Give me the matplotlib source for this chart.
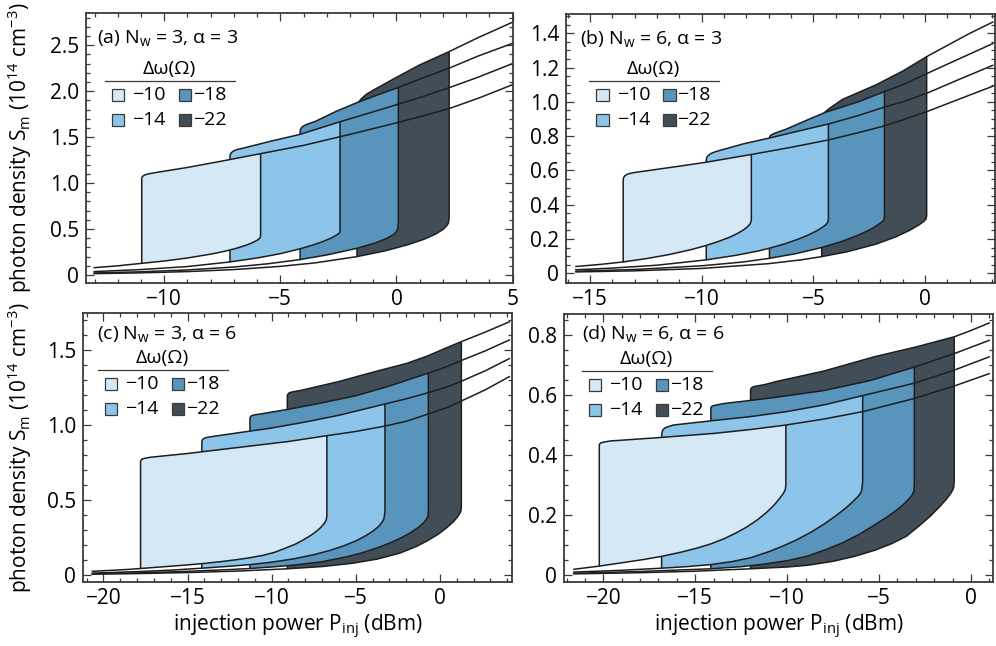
import numpy as np
import matplotlib
matplotlib.use("Agg")
import matplotlib.pyplot as plt
from matplotlib.patches import Rectangle
from matplotlib.ticker import MultipleLocator

plt.rcParams['font.family'] = ['Open Sans', 'DejaVu Sans']
plt.rcParams['mathtext.fontset'] = 'custom'
plt.rcParams['mathtext.rm'] = 'Open Sans'
plt.rcParams['mathtext.it'] = 'Open Sans:italic'
plt.rcParams['mathtext.bf'] = 'Open Sans:bold'

# ---------------- data ----------------
detunings = [-10, -14, -18, -22]
legend_labels = ['\u221210', '\u221214', '\u221218', '\u221222']
fill_colors = ['#d5e8f6', '#8cc4ea', '#5894bb', '#414e58']

panel_labels = [r'(a) N$_\mathrm{w}$ = 3, α = 3', r'(b) N$_\mathrm{w}$ = 6, α = 3',
                r'(c) N$_\mathrm{w}$ = 3, α = 6', r'(d) N$_\mathrm{w}$ = 6, α = 6']

# order of inner lists: detuning -10, -14, -18, -22
# lower branch runs from the left end to the up-jump; upper branch from the down-jump to the right end
# panel (a)
a_lower_x = [[-13.05, -12.0, -10.97, -10.0, -9.0, -8.0, -7.4, -6.9, -6.5, -6.2, -6.0, -5.92, -5.87, -5.85],
             [-13.05, -11.0, -9.0, -7.17, -6.0, -5.0, -4.15, -3.6, -3.15, -2.85, -2.65, -2.53, -2.46, -2.43],
             [-13.05, -11.0, -9.0, -7.0, -5.5, -4.15, -3.0, -1.7, -0.9, -0.45, -0.15, 0.0, 0.06, 0.08],
             [-13.05, -11.0, -9.0, -7.0, -5.0, -3.5, -1.7, -0.5, 0.5, 1.2, 1.7, 2.0, 2.17, 2.24, 2.27]]
a_lower_y = [[0.079, 0.10, 0.127, 0.152, 0.185, 0.227, 0.258, 0.29, 0.322, 0.352, 0.378, 0.393, 0.407, 0.43],
             [0.037, 0.059, 0.092, 0.142, 0.185, 0.232, 0.285, 0.326, 0.366, 0.398, 0.424, 0.443, 0.456, 0.475],
             [0.022, 0.035, 0.055, 0.087, 0.123, 0.168, 0.218, 0.29, 0.35, 0.395, 0.435, 0.47, 0.51, 0.57],
             [0.0146, 0.0235, 0.037, 0.059, 0.094, 0.132, 0.20, 0.262, 0.33, 0.39, 0.447, 0.495, 0.537, 0.565, 0.62]]
a_upper_x = [[-10.97, -10.95, -10.9, -10.8, -10.6, -10.3, -9.0, -7.5, -5.85, -4.0, -2.0, 0.0, 1.2, 2.27, 3.6, 5.0],
             [-7.17, -7.15, -7.1, -7.0, -6.85, -6.6, -5.5, -4.15, -2.43, -1.0, 0.0, 1.0, 2.3, 3.5, 5.0],
             [-4.15, -4.13, -4.08, -3.98, -3.8, -3.5, -2.6, -1.7, -0.8, 0.08, 1.0, 2.27, 3.5, 5.0],
             [-1.7, -1.68, -1.62, -1.5, -1.3, -1.0, -0.5, 0.0, 1.0, 2.27, 3.5, 5.0]]
a_upper_y = [[1.05, 1.068, 1.08, 1.092, 1.104, 1.117, 1.17, 1.24, 1.32, 1.41, 1.53, 1.655, 1.735, 1.81, 1.93, 2.07],
             [1.29, 1.315, 1.333, 1.352, 1.366, 1.38, 1.45, 1.53, 1.667, 1.775, 1.852, 1.93, 2.04, 2.15, 2.30],
             [1.56, 1.585, 1.605, 1.625, 1.645, 1.67, 1.78, 1.875, 1.96, 2.04, 2.13, 2.25, 2.38, 2.52],
             [1.82, 1.855, 1.885, 1.92, 1.965, 2.01, 2.08, 2.15, 2.285, 2.43, 2.58, 2.75]]

# panel (b)
b_lower_x = [[-15.67, -14.5, -13.52, -12.5, -11.5, -10.5, -9.8, -9.2, -8.7, -8.35, -8.1, -7.93, -7.83, -7.78],
             [-15.67, -14.0, -12.0, -9.8, -8.5, -7.5, -6.97, -6.3, -5.7, -5.2, -4.85, -4.6, -4.45, -4.37, -4.33],
             [-15.67, -13.0, -10.0, -8.2, -6.97, -5.8, -4.63, -3.7, -3.0, -2.5, -2.15, -1.95, -1.86, -1.82],
             [-15.67, -13.0, -10.0, -7.0, -5.5, -4.63, -3.5, -2.19, -1.3, -0.7, -0.3, -0.05, 0.04, 0.07]]
b_lower_y = [[0.039, 0.052, 0.066, 0.085, 0.108, 0.137, 0.162, 0.188, 0.213, 0.236, 0.256, 0.274, 0.289, 0.31],
             [0.02, 0.03, 0.047, 0.078, 0.104, 0.129, 0.146, 0.171, 0.198, 0.225, 0.248, 0.268, 0.283, 0.295, 0.315],
             [0.0118, 0.0218, 0.0435, 0.065, 0.087, 0.114, 0.15, 0.187, 0.222, 0.252, 0.279, 0.298, 0.308, 0.325],
             [0.0076, 0.014, 0.028, 0.056, 0.079, 0.097, 0.125, 0.17, 0.213, 0.25, 0.28, 0.303, 0.316, 0.335]]
b_upper_x = [[-13.52, -13.5, -13.45, -13.35, -13.2, -13.0, -11.0, -9.8, -7.78, -6.0, -4.33, -3.0, -1.82, -1.0, 0.07, 1.5, 3.06],
             [-9.8, -9.78, -9.72, -9.6, -9.4, -9.1, -8.14, -6.94, -5.5, -4.33, -3.0, -1.82, -1.0, 0.07, 1.5, 3.06],
             [-6.97, -6.95, -6.88, -6.75, -6.55, -6.2, -5.5, -4.45, -3.0, -1.82, -1.0, 0.07, 1.5, 3.06],
             [-4.63, -4.6, -4.52, -4.4, -4.2, -3.69, -2.19, -1.0, 0.07, 1.0, 2.0, 3.06]]
b_upper_y = [[0.545, 0.558, 0.568, 0.577, 0.583, 0.588, 0.625, 0.648, 0.693, 0.735, 0.778, 0.82, 0.86, 0.895, 0.943, 1.015, 1.093],
             [0.66, 0.674, 0.686, 0.698, 0.709, 0.72, 0.755, 0.79, 0.835, 0.871, 0.92, 0.97, 1.0, 1.05, 1.13, 1.215],
             [0.79, 0.80, 0.808, 0.816, 0.826, 0.842, 0.882, 0.94, 1.0, 1.06, 1.10, 1.165, 1.25, 1.342],
             [0.90, 0.918, 0.935, 0.95, 0.97, 1.015, 1.10, 1.18, 1.264, 1.33, 1.40, 1.468]]

# panel (c)
c_lower_x = [[-20.7, -19.5, -18.5, -17.79, -16.5, -15.0, -14.0, -13.0, -12.0, -11.29, -10.5, -9.8, -9.2, -8.6, -8.1, -7.7, -7.35, -7.1, -6.9, -6.8, -6.75, -6.72],
             [-20.7, -18.0, -16.0, -14.15, -12.5, -11.29, -10.0, -8.67, -7.5, -6.5, -5.7, -5.0, -4.4, -3.95, -3.65, -3.45, -3.33, -3.27],
             [-20.7, -18.0, -15.0, -12.5, -11.29, -10.0, -8.67, -7.0, -5.5, -4.71, -3.8, -3.0, -2.3, -1.7, -1.25, -0.95, -0.78, -0.71, -0.69],
             [-20.7, -18.0, -15.0, -12.0, -9.07, -7.0, -5.2, -3.72, -2.4, -1.4, -0.75, -0.1, 0.4, 0.8, 1.05, 1.2, 1.25, 1.27]]
c_lower_y = [[0.024, 0.031, 0.037, 0.043, 0.054, 0.067, 0.077, 0.089, 0.103, 0.115, 0.131, 0.152, 0.178, 0.205, 0.235, 0.262, 0.29, 0.315, 0.34, 0.357, 0.372, 0.395],
             [0.012, 0.022, 0.032, 0.045, 0.058, 0.069, 0.085, 0.108, 0.135, 0.165, 0.195, 0.227, 0.262, 0.295, 0.323, 0.35, 0.375, 0.42],
             [0.008, 0.014, 0.024, 0.036, 0.043, 0.053, 0.066, 0.088, 0.122, 0.145, 0.178, 0.212, 0.248, 0.285, 0.32, 0.35, 0.375, 0.395, 0.435],
             [0.005, 0.009, 0.016, 0.026, 0.041, 0.056, 0.078, 0.106, 0.145, 0.19, 0.228, 0.272, 0.315, 0.355, 0.388, 0.415, 0.43, 0.456]]
c_upper_x = [[-17.79, -17.77, -17.72, -17.62, -17.45, -17.2, -15.0, -12.0, -9.0, -6.72, -5.0, -3.27, -2.0, -0.65, 0.5, 1.27, 2.7, 4.16],
             [-14.15, -14.13, -14.08, -13.98, -13.8, -13.6, -12.0, -10.0, -8.0, -6.0, -3.27, -2.0, -0.65, 0.5, 1.27, 2.7, 4.16],
             [-11.29, -11.27, -11.22, -11.12, -10.95, -10.7, -9.0, -7.0, -5.0, -3.0, -0.69, 0.3, 1.27, 2.7, 4.16],
             [-9.07, -9.05, -9.0, -8.9, -8.72, -8.3, -6.0, -4.71, -3.72, -2.0, -0.75, 0.5, 1.27, 2.7, 4.16]]
c_upper_y = [[0.756, 0.764, 0.771, 0.776, 0.78, 0.785, 0.81, 0.85, 0.89, 0.929, 0.957, 0.993, 1.025, 1.075, 1.12, 1.16, 1.235, 1.325],
             [0.885, 0.897, 0.906, 0.913, 0.918, 0.922, 0.948, 0.98, 1.02, 1.065, 1.14, 1.175, 1.217, 1.257, 1.292, 1.362, 1.445],
             [1.044, 1.053, 1.06, 1.065, 1.069, 1.073, 1.105, 1.148, 1.195, 1.26, 1.346, 1.385, 1.43, 1.495, 1.569],
             [1.193, 1.203, 1.211, 1.217, 1.222, 1.23, 1.29, 1.33, 1.36, 1.41, 1.46, 1.52, 1.556, 1.62, 1.69]]

# panel (d)
d_lower_x = [[-21.64, -20.22, -19.0, -17.8, -16.87, -15.8, -14.9, -14.15, -13.4, -12.7, -12.15, -11.6, -11.1, -10.7, -10.4, -10.2, -10.1, -10.07],
             [-21.64, -19.0, -16.83, -15.5, -14.15, -13.0, -11.97, -11.0, -10.3, -9.5, -8.7, -7.94, -7.3, -6.8, -6.4, -6.1, -5.95, -5.89],
             [-21.64, -18.0, -14.15, -12.5, -11.2, -10.0, -8.9, -7.94, -7.0, -6.1, -5.22, -4.6, -4.1, -3.7, -3.4, -3.2, -3.1, -3.08],
             [-21.64, -18.0, -15.0, -11.99, -10.0, -8.85, -7.5, -6.3, -5.22, -4.3, -3.5, -2.8, -2.2, -1.7, -1.35, -1.1, -0.98, -0.93, -0.91]]
d_lower_y = [[0.019, 0.03, 0.041, 0.052, 0.062, 0.076, 0.09, 0.104, 0.122, 0.143, 0.162, 0.185, 0.21, 0.234, 0.256, 0.273, 0.285, 0.30],
             [0.01, 0.016, 0.023, 0.028, 0.035, 0.045, 0.058, 0.078, 0.095, 0.117, 0.143, 0.172, 0.20, 0.224, 0.246, 0.265, 0.28, 0.31],
             [0.006, 0.012, 0.021, 0.028, 0.037, 0.048, 0.063, 0.084, 0.107, 0.135, 0.168, 0.192, 0.214, 0.234, 0.252, 0.267, 0.28, 0.308],
             [0.004, 0.008, 0.013, 0.021, 0.027, 0.033, 0.046, 0.063, 0.083, 0.105, 0.13, 0.165, 0.197, 0.228, 0.252, 0.272, 0.285, 0.295, 0.317]]
d_upper_x = [[-20.22, -20.2, -20.15, -20.05, -19.9, -19.6, -17.0, -14.0, -12.0, -10.07, -8.0, -5.86, -3.05, -0.91, 1.03],
             [-16.83, -16.81, -16.76, -16.66, -16.5, -16.2, -14.0, -12.0, -10.0, -8.0, -5.89, -3.05, -0.91, 1.03],
             [-14.15, -14.13, -14.08, -13.98, -13.84, -13.4, -12.0, -10.66, -8.0, -5.5, -3.08, -0.91, 1.03],
             [-11.99, -11.97, -11.92, -11.82, -11.66, -11.2, -10.66, -8.0, -5.22, -3.0, -0.91, 0.0, 1.03]]
d_upper_y = [[0.433, 0.437, 0.44, 0.442, 0.444, 0.447, 0.458, 0.472, 0.485, 0.50, 0.52, 0.545, 0.589, 0.63, 0.672],
             [0.461, 0.475, 0.484, 0.49, 0.494, 0.50, 0.515, 0.528, 0.545, 0.567, 0.598, 0.64, 0.683, 0.728],
             [0.556, 0.56, 0.563, 0.565, 0.567, 0.572, 0.582, 0.592, 0.615, 0.648, 0.693, 0.738, 0.783],
             [0.617, 0.621, 0.625, 0.628, 0.63, 0.635, 0.644, 0.68, 0.728, 0.76, 0.794, 0.815, 0.841]]

# axis ticks / limits
a_xticks = [-10, -5, 0, 5]
b_xticks = [-15, -10, -5, 0]
c_xticks = [-20, -15, -10, -5, 0]
d_xticks = [-20, -15, -10, -5, 0]
a_yticks = [0, 0.5, 1.0, 1.5, 2.0, 2.5]
b_yticks = [0, 0.2, 0.4, 0.6, 0.8, 1.0, 1.2, 1.4]
c_yticks = [0, 0.5, 1.0, 1.5]
d_yticks = [0, 0.2, 0.4, 0.6, 0.8]
a_lim = (-13.37, 5.02, -0.087, 2.85)
b_lim = (-16.08, 3.13, -0.057, 1.513)
c_lim = (-21.21, 4.28, -0.047, 1.747)
d_lim = (-22.14, 1.2, -0.023, 0.87)

ylabel_text = r'photon density S$_\mathrm{m}$ (10$^{14}$ cm$^{-3}$)'
xlabel_text = r'injection power P$_\mathrm{inj}$ (dBm)'
legend_title = 'Δω(Ω)'

# ---------------- layout ----------------
W, H = 996, 646
fig = plt.figure(figsize=(W / 100, H / 100), dpi=100)

# pixel boxes: left, top, right, bottom
boxes = [(86, 13, 513, 283), (566, 14, 995, 283), (83, 313, 512, 582), (564, 314, 993, 582)]
minor_y = [0.1, 0.05, 0.1, 0.05]
label_off = [(11.3, 25.3), (13.7, 24.3), (14.0, 21.0), (17.7, 20.0)]
line_off = [(18.7, 67.7), (23.0, 66.7), (14.7, 57.0), (17.7, 56.7)]

LINE = '#1e1e1e'
SPINE = '#3a3a3a'
FS = 14
TICKFS = 15

panels = [
    (a_lower_x, a_lower_y, a_upper_x, a_upper_y, a_xticks, a_yticks, a_lim),
    (b_lower_x, b_lower_y, b_upper_x, b_upper_y, b_xticks, b_yticks, b_lim),
    (c_lower_x, c_lower_y, c_upper_x, c_upper_y, c_xticks, c_yticks, c_lim),
    (d_lower_x, d_lower_y, d_upper_x, d_upper_y, d_xticks, d_yticks, d_lim),
]


def fmt_x(v):
    return ('%g' % v).replace('-', '\u2212')


def fmt_y(v):
    return '0' if v == 0 else '%.1f' % v


for k, (lx_all, ly_all, ux_all, uy_all, xt, yt, lim) in enumerate(panels):
    l, t, r, b = boxes[k]
    ax = fig.add_axes([l / W, 1 - b / H, (r - l) / W, (b - t) / H])
    axw, axh = r - l, b - t

    # draw darkest first so lighter loops overlay
    for i in reversed(range(len(detunings))):
        lx = np.array(lx_all[i]); ly = np.array(ly_all[i])
        ux = np.array(ux_all[i]); uy = np.array(uy_all[i])
        xl, xr = ux[0], lx[-1]
        ml = lx >= xl - 1e-9
        mu = ux <= xr + 1e-9
        px = np.concatenate([lx[ml], ux[mu][::-1]])
        py = np.concatenate([ly[ml], uy[mu][::-1]])
        z = 2 + (len(detunings) - i)
        ax.fill(px, py, facecolor=fill_colors[i], edgecolor=LINE, lw=1.1,
                joinstyle='round', zorder=z)
        tl = lx <= xl + 1e-9
        ax.plot(lx[tl], ly[tl], color=LINE, lw=1.1, zorder=z, solid_capstyle='butt')
        tu = ux >= xr - 1e-9
        ax.plot(ux[tu], uy[tu], color=LINE, lw=1.1, zorder=z, solid_capstyle='butt')

    ax.set_xlim(lim[0], lim[1])
    ax.set_ylim(lim[2], lim[3])
    ax.set_xticks(xt)
    ax.set_xticklabels([fmt_x(v) for v in xt])
    ax.set_yticks(yt)
    ax.set_yticklabels([fmt_y(v) for v in yt])
    ax.xaxis.set_minor_locator(MultipleLocator(1))
    ax.yaxis.set_minor_locator(MultipleLocator(minor_y[k]))
    ax.tick_params(which='both', direction='in', top=True, right=True,
                   color=SPINE, labelsize=TICKFS, width=0.9)
    ax.tick_params(which='major', length=6)
    ax.tick_params(which='minor', length=3.2)
    ax.tick_params(axis='y', pad=5)
    ax.tick_params(axis='x', pad=4)
    for s in ax.spines.values():
        s.set_color(SPINE)
        s.set_linewidth(1.3)

    if k in (0, 2):
        ax.set_ylabel(ylabel_text, fontsize=15, va='center')
        ax.yaxis.set_label_coords((20 - l) / axw, 0.5)
    if k in (2, 3):
        ax.set_xlabel(xlabel_text, fontsize=15, va='center')
        ax.xaxis.set_label_coords(0.5, -(627 - b) / axh)

    # panel label
    lo = label_off[k]
    ax.text(lo[0] / axw, 1 - lo[1] / axh, panel_labels[k], transform=ax.transAxes,
            ha='left', va='center', fontsize=FS, zorder=20)

    # legend
    x0, y0 = line_off[k]
    ax.plot([x0 / axw, (x0 + 130) / axw], [1 - y0 / axh, 1 - y0 / axh],
            transform=ax.transAxes, color=SPINE, lw=0.9, zorder=20)
    ax.text((x0 + 64.5) / axw, 1 - (y0 - 11.8) / axh, legend_title,
            transform=ax.transAxes, ha='center', va='center', fontsize=FS, zorder=20)
    pw, ph = 12.3, 12.0
    for j, (lab, col) in enumerate(zip(legend_labels, fill_colors)):
        colx = j // 2
        rowy = y0 + (14.3 if j % 2 == 0 else 39.0)
        pxo = x0 + (7.2 if colx == 0 else 74.3)
        txo = x0 + (27.6 if colx == 0 else 88.3)
        ax.add_patch(Rectangle((pxo / axw, 1 - (rowy + ph / 2) / axh), pw / axw, ph / axh,
                               transform=ax.transAxes, facecolor=col, edgecolor=SPINE,
                               lw=0.9, zorder=20))
        ax.text(txo / axw, 1 - rowy / axh, lab, transform=ax.transAxes,
                ha='left', va='center', fontsize=FS, zorder=20)

fig.savefig('out.png', dpi=100)
